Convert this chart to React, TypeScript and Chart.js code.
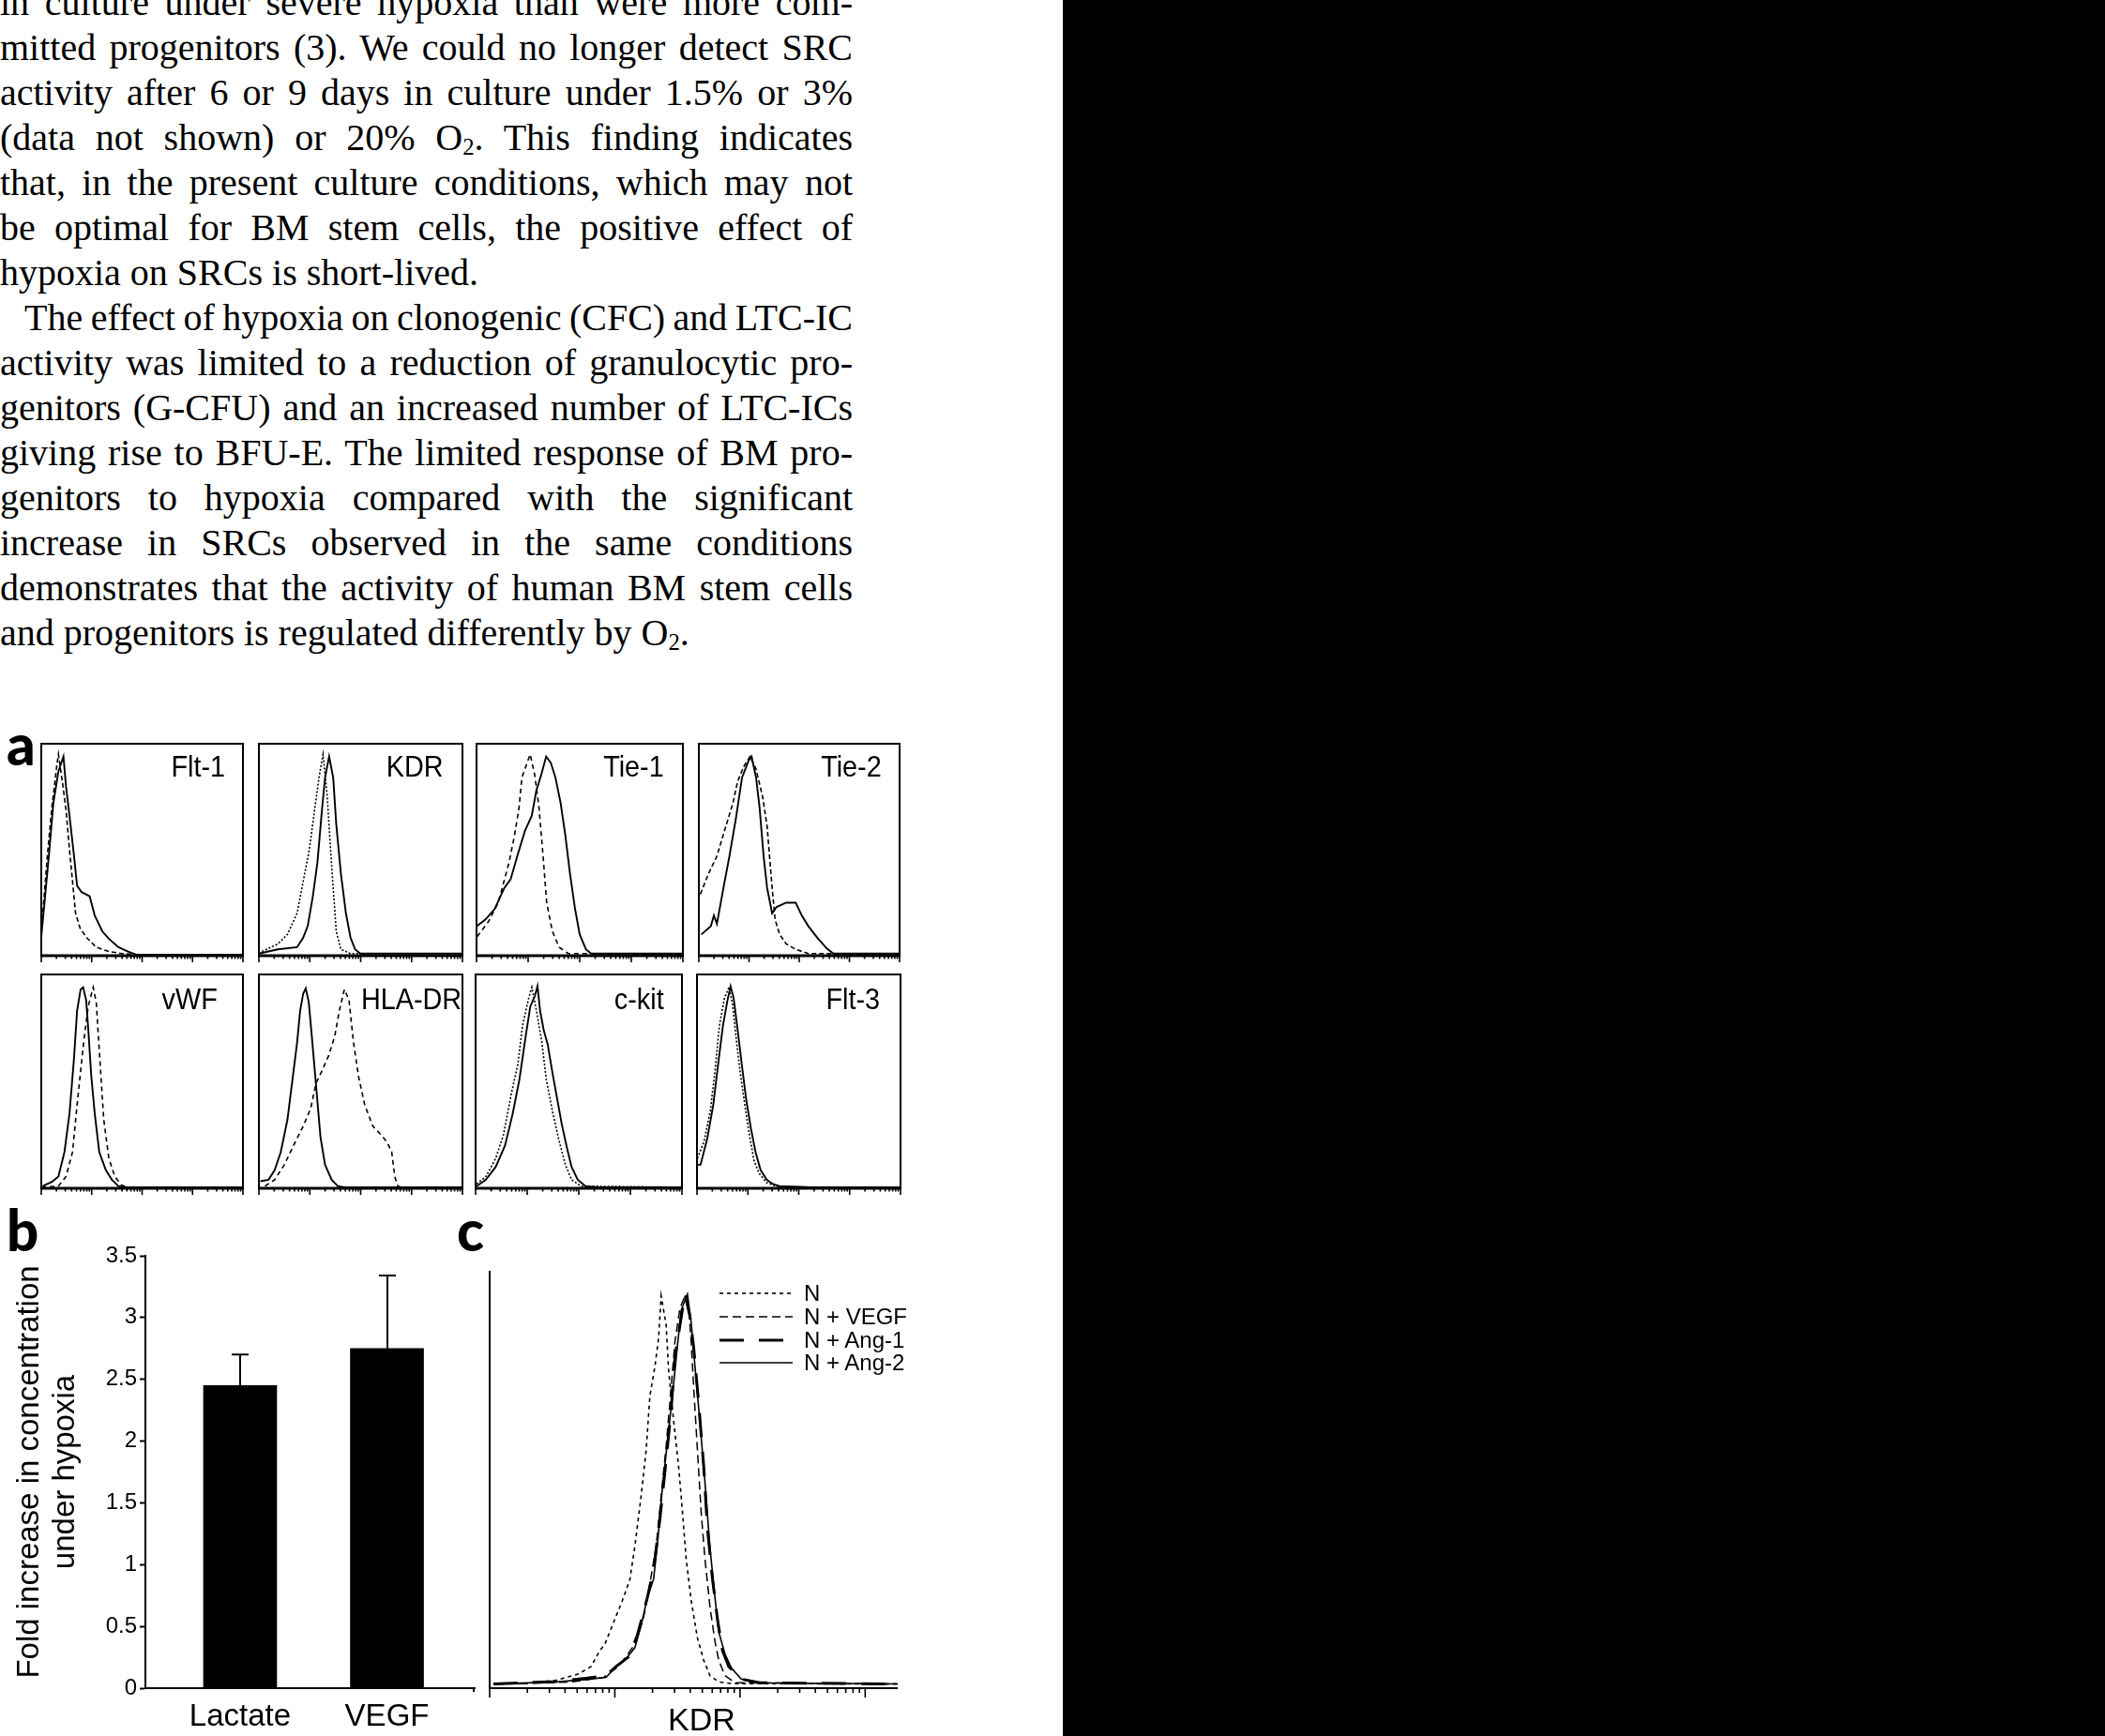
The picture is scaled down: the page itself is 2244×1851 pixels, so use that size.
import React, { useEffect, useRef } from 'react';
import { Chart, registerables } from 'chart.js';

Chart.register(...registerables);

type Pt = [number, number];

// ---------- Panel a: flow-cytometry histograms (x in log decades 0..4, y as fraction of frame height) ----------
const flt1Solid: Pt[] = [[0,0.09],[0.06,0.24],[0.15,0.47],[0.24,0.72],[0.34,0.87],[0.44,0.94],[0.49,0.8],[0.56,0.66],[0.65,0.47],[0.71,0.33],[0.8,0.3],[0.96,0.28],[1.06,0.19],[1.21,0.115],[1.34,0.08],[1.53,0.04],[1.71,0.02],[1.87,0.006],[2.5,0.005],[4,0.005]];
const flt1Dashed: Pt[] = [[0,0.1],[0.03,0.2],[0.12,0.47],[0.21,0.7],[0.31,0.9],[0.34,0.95],[0.43,0.8],[0.49,0.69],[0.56,0.5],[0.62,0.35],[0.68,0.2],[0.77,0.13],[0.9,0.085],[1.09,0.04],[1.34,0.02],[1.59,0.01],[2,0.005],[4,0.005]];

const kdrSolid: Pt[] = [[0,0.01],[0.37,0.03],[0.75,0.04],[0.87,0.085],[0.96,0.14],[1.06,0.28],[1.15,0.44],[1.24,0.69],[1.3,0.84],[1.38,0.94],[1.46,0.84],[1.52,0.62],[1.61,0.39],[1.71,0.2],[1.8,0.085],[1.89,0.03],[1.99,0.01],[4,0.01]];
const kdrDotted: Pt[] = [[0.06,0.02],[0.37,0.055],[0.56,0.1],[0.75,0.2],[0.87,0.35],[0.99,0.5],[1.09,0.68],[1.18,0.84],[1.26,0.95],[1.34,0.76],[1.4,0.53],[1.46,0.32],[1.52,0.115],[1.61,0.03],[1.8,0.01],[4,0.01]];

const tie1Solid: Pt[] = [[0.01,0.14],[0.17,0.17],[0.35,0.22],[0.54,0.32],[0.66,0.36],[0.79,0.47],[0.94,0.59],[1.07,0.66],[1.16,0.78],[1.25,0.85],[1.35,0.94],[1.44,0.91],[1.53,0.84],[1.63,0.72],[1.72,0.57],[1.81,0.39],[1.91,0.22],[2.0,0.1],[2.12,0.03],[2.22,0.01],[4,0.01]];
const tie1Dashed: Pt[] = [[0.01,0.09],[0.23,0.16],[0.42,0.25],[0.63,0.44],[0.73,0.56],[0.82,0.69],[0.88,0.84],[0.98,0.91],[1.04,0.95],[1.13,0.85],[1.21,0.7],[1.29,0.47],[1.36,0.25],[1.47,0.115],[1.6,0.04],[1.78,0.01],[4,0.008]];

const tie2Solid: Pt[] = [[0.05,0.1],[0.24,0.14],[0.3,0.19],[0.36,0.15],[0.49,0.32],[0.61,0.47],[0.74,0.65],[0.86,0.84],[0.99,0.92],[1.05,0.94],[1.14,0.84],[1.21,0.7],[1.29,0.47],[1.36,0.32],[1.46,0.2],[1.55,0.23],[1.74,0.25],[1.93,0.25],[2.05,0.19],[2.18,0.14],[2.36,0.085],[2.55,0.034],[2.68,0.01],[4,0.01]];
const tie2Dashed: Pt[] = [[0.03,0.29],[0.18,0.38],[0.36,0.47],[0.55,0.62],[0.68,0.72],[0.77,0.82],[0.89,0.89],[1.02,0.94],[1.14,0.88],[1.27,0.75],[1.36,0.61],[1.46,0.32],[1.52,0.17],[1.61,0.1],[1.74,0.056],[1.93,0.03],[2.18,0.01],[4,0.008]];

const vwfSolid: Pt[] = [[0.03,0.01],[0.21,0.03],[0.34,0.055],[0.46,0.17],[0.56,0.35],[0.65,0.61],[0.71,0.83],[0.78,0.93],[0.83,0.94],[0.89,0.88],[0.93,0.75],[0.99,0.53],[1.06,0.35],[1.15,0.17],[1.28,0.085],[1.4,0.04],[1.53,0.01],[1.65,0.005],[4,0.005]];
const vwfDashed: Pt[] = [[0,0.005],[0.34,0.01],[0.49,0.055],[0.62,0.17],[0.71,0.39],[0.84,0.68],[0.93,0.85],[1.03,0.94],[1.09,0.87],[1.16,0.61],[1.24,0.32],[1.34,0.14],[1.46,0.055],[1.59,0.015],[1.71,0.005],[4,0.005]];

const hlaSolid: Pt[] = [[0.03,0.033],[0.19,0.04],[0.31,0.085],[0.43,0.17],[0.56,0.32],[0.65,0.49],[0.75,0.68],[0.81,0.83],[0.87,0.91],[0.92,0.935],[0.98,0.87],[1.04,0.71],[1.12,0.49],[1.21,0.24],[1.3,0.11],[1.43,0.04],[1.55,0.01],[1.68,0.005],[4,0.005]];
const hlaDashed: Pt[] = [[0.12,0.01],[0.31,0.04],[0.5,0.11],[0.68,0.2],[0.87,0.29],[1.02,0.375],[1.12,0.49],[1.24,0.55],[1.37,0.62],[1.49,0.71],[1.58,0.83],[1.68,0.93],[1.77,0.88],[1.86,0.68],[1.96,0.52],[2.08,0.39],[2.24,0.29],[2.42,0.245],[2.52,0.215],[2.61,0.17],[2.67,0.055],[2.73,0.01],[2.8,0.005],[4,0.005]];

const ckitSolid: Pt[] = [[0.02,0.01],[0.2,0.04],[0.39,0.1],[0.57,0.2],[0.72,0.35],[0.85,0.51],[0.97,0.71],[1.06,0.85],[1.15,0.9],[1.2,0.945],[1.25,0.83],[1.32,0.74],[1.4,0.67],[1.49,0.54],[1.58,0.42],[1.67,0.3],[1.77,0.19],[1.86,0.1],[1.98,0.04],[2.13,0.01],[2.35,0.005],[4,0.005]];
const ckitDotted: Pt[] = [[0.02,0.02],[0.2,0.055],[0.39,0.14],[0.54,0.25],[0.69,0.44],[0.82,0.58],[0.91,0.76],[1.03,0.89],[1.09,0.94],[1.18,0.83],[1.28,0.69],[1.37,0.51],[1.49,0.36],[1.61,0.23],[1.74,0.11],[1.86,0.04],[2.04,0.01],[4,0.005]];

const flt3Solid: Pt[] = [[0,0.11],[0.07,0.11],[0.2,0.23],[0.32,0.39],[0.41,0.57],[0.51,0.76],[0.6,0.88],[0.66,0.945],[0.72,0.89],[0.8,0.74],[0.88,0.58],[0.97,0.41],[1.06,0.28],[1.15,0.17],[1.25,0.085],[1.37,0.04],[1.49,0.02],[1.62,0.01],[2.17,0.006],[4,0.005]];
const flt3Dotted: Pt[] = [[0.01,0.14],[0.14,0.22],[0.26,0.36],[0.35,0.54],[0.44,0.76],[0.54,0.89],[0.63,0.94],[0.7,0.86],[0.78,0.68],[0.85,0.54],[0.94,0.39],[1.03,0.25],[1.12,0.13],[1.22,0.07],[1.37,0.026],[1.56,0.01],[1.86,0.005],[4,0.005]];

const histLabels = ['Flt-1', 'KDR', 'Tie-1', 'Tie-2', 'vWF', 'HLA-DR', 'c-kit', 'Flt-3'];

// ---------- Panel b: bar chart ----------
const bCategories = ['Lactate', 'VEGF'];
const bValues = [2.45, 2.75];
const bErrorTop = [2.7, 3.34];
const bTickLabels = ['0', '0.5', '1', '1.5', '2', '2.5', '3', '3.5'];
const bYTitle = ['Fold increase in concentration', 'under hypoxia'];

// ---------- Panel c: KDR histograms (x in log decades) ----------
const cN: Pt[] = [[0.03,0.01],[0.28,0.011],[0.53,0.019],[0.71,0.034],[0.81,0.052],[0.88,0.09],[0.92,0.105],[0.98,0.15],[1.06,0.21],[1.12,0.26],[1.16,0.34],[1.21,0.46],[1.25,0.57],[1.28,0.7],[1.32,0.77],[1.35,0.84],[1.37,0.94],[1.41,0.87],[1.43,0.76],[1.47,0.64],[1.51,0.53],[1.53,0.46],[1.57,0.31],[1.61,0.21],[1.66,0.12],[1.71,0.067],[1.76,0.03],[1.83,0.015],[1.93,0.011],[3.26,0.01]];
const cVEGF: Pt[] = [[0.03,0.01],[0.28,0.011],[0.66,0.015],[0.91,0.026],[1.03,0.052],[1.16,0.105],[1.23,0.17],[1.28,0.25],[1.33,0.34],[1.37,0.46],[1.41,0.58],[1.45,0.72],[1.48,0.83],[1.52,0.91],[1.56,0.94],[1.59,0.91],[1.61,0.83],[1.63,0.72],[1.66,0.57],[1.69,0.42],[1.72,0.31],[1.76,0.195],[1.8,0.112],[1.83,0.067],[1.88,0.03],[1.96,0.013],[3.26,0.01]];
const cAng1: Pt[] = [[0.03,0.01],[0.53,0.016],[0.78,0.024],[0.93,0.03],[1.01,0.052],[1.11,0.075],[1.18,0.127],[1.26,0.217],[1.31,0.285],[1.36,0.405],[1.41,0.547],[1.45,0.667],[1.48,0.794],[1.52,0.869],[1.55,0.925],[1.56,0.944],[1.6,0.891],[1.63,0.816],[1.67,0.682],[1.71,0.532],[1.74,0.382],[1.78,0.262],[1.82,0.165],[1.86,0.09],[1.91,0.052],[2.01,0.022],[2.16,0.013],[3.26,0.01]];
const cAng2: Pt[] = [[0.03,0.01],[0.53,0.015],[0.78,0.021],[0.93,0.026],[1.01,0.052],[1.08,0.067],[1.16,0.097],[1.21,0.15],[1.26,0.217],[1.31,0.262],[1.345,0.36],[1.38,0.48],[1.42,0.59],[1.46,0.7],[1.5,0.82],[1.53,0.906],[1.58,0.944],[1.61,0.876],[1.64,0.772],[1.68,0.637],[1.72,0.494],[1.76,0.337],[1.8,0.217],[1.83,0.135],[1.88,0.082],[1.93,0.049],[2.01,0.022],[2.11,0.013],[3.26,0.01]];
const cLegend = ['N', 'N + VEGF', 'N + Ang-1', 'N + Ang-2'];
const cAxisLabel = 'KDR';

// ---------- Text ----------
const SANS = '"Liberation Sans", Arial, Helvetica, sans-serif';
const SERIF = '"Liberation Serif", "Times New Roman", serif';

type Line = { parts: (string | { sub: string })[]; justify: boolean; indent?: boolean };
const paragraphLines: Line[] = [
  { parts: ['in culture under severe hypoxia than were more com-'], justify: true },
  { parts: ['mitted progenitors (3). We could no longer detect SRC'], justify: true },
  { parts: ['activity after 6 or 9 days in culture under 1.5% or 3%'], justify: true },
  { parts: ['(data not shown) or 20% O', { sub: '2' }, '. This finding indicates'], justify: true },
  { parts: ['that, in the present culture conditions, which may not'], justify: true },
  { parts: ['be optimal for BM stem cells, the positive effect of'], justify: true },
  { parts: ['hypoxia on SRCs is short-lived.'], justify: false },
  { parts: ['The effect of hypoxia on clonogenic (CFC) and LTC-IC'], justify: true, indent: true },
  { parts: ['activity was limited to a reduction of granulocytic pro-'], justify: true },
  { parts: ['genitors (G-CFU) and an increased number of LTC-ICs'], justify: true },
  { parts: ['giving rise to BFU-E. The limited response of BM pro-'], justify: true },
  { parts: ['genitors to hypoxia compared with the significant'], justify: true },
  { parts: ['increase in SRCs observed in the same conditions'], justify: true },
  { parts: ['demonstrates that the activity of human BM stem cells'], justify: true },
  { parts: ['and progenitors is regulated differently by O', { sub: '2' }, '.'], justify: false },
];

// ---------- Plugins ----------
const logFrame = {
  id: 'logFrame',
  afterDatasetsDraw(chart: any, _args: any, opts: any) {
    const { ctx, chartArea: a, scales } = chart;
    const x = scales.x;
    ctx.save();
    ctx.strokeStyle = '#000';
    if (opts.box) {
      ctx.lineWidth = 2;
      ctx.strokeRect(a.left, a.top, a.right - a.left, a.bottom - a.top);
      ctx.lineWidth = 3;
      ctx.beginPath();
      ctx.moveTo(a.left - 1, a.bottom);
      ctx.lineTo(a.right + 1, a.bottom);
      ctx.stroke();
    } else {
      ctx.lineWidth = 2;
      ctx.beginPath();
      ctx.moveTo(a.left, a.top);
      ctx.lineTo(a.left, a.bottom);
      ctx.lineTo(a.right, a.bottom);
      ctx.stroke();
    }
    ctx.lineWidth = 1.6;
    const maxD = x.max;
    for (let d = 0; d <= Math.ceil(maxD); d++) {
      for (let k = 1; k <= 9; k++) {
        const v = d + Math.log10(k);
        if (v > maxD + 1e-6) break;
        const px = x.getPixelForValue(v);
        const len = k === 1 ? opts.major : opts.minor;
        ctx.beginPath();
        ctx.moveTo(px, a.bottom);
        ctx.lineTo(px, a.bottom + len);
        ctx.stroke();
      }
    }
    if (opts.legend) {
      opts.legend.forEach((row: any, i: number) => {
        const ds = chart.data.datasets[i];
        ctx.lineWidth = ds.borderWidth;
        ctx.setLineDash(ds.borderDash || []);
        ctx.beginPath();
        ctx.moveTo(row.x1, row.y);
        ctx.lineTo(row.x2, row.y);
        ctx.stroke();
      });
      ctx.setLineDash([]);
    }
    ctx.restore();
  },
};

const errorBars = {
  id: 'errorBars',
  afterDatasetsDraw(chart: any) {
    const { ctx, scales, chartArea: a } = chart;
    const x = scales.x;
    const y = scales.y;
    ctx.save();
    ctx.strokeStyle = '#000';
    ctx.lineWidth = 2;
    bValues.forEach((v, i) => {
      const px = Math.round(x.getPixelForValue(i + 1));
      const y0 = y.getPixelForValue(v);
      const y1 = y.getPixelForValue(bErrorTop[i]);
      ctx.beginPath();
      ctx.moveTo(px, y0);
      ctx.lineTo(px, y1);
      ctx.moveTo(px - 9, y1);
      ctx.lineTo(px + 9, y1);
      ctx.stroke();
    });
    // small end tick at the right end of the x axis
    ctx.beginPath();
    ctx.moveTo(a.right - 1, a.bottom);
    ctx.lineTo(a.right - 1, a.bottom + 4);
    ctx.stroke();
    ctx.restore();
  },
};

// ---------- Chart helper ----------
function ChartCanvas(props: { left: number; top: number; width: number; height: number; make: () => any }) {
  const ref = useRef<HTMLCanvasElement>(null);
  useEffect(() => {
    const chart = new Chart(ref.current as HTMLCanvasElement, props.make());
    return () => chart.destroy();
  }, []);
  return (
    <canvas
      ref={ref}
      width={props.width}
      height={props.height}
      style={{ position: 'absolute', left: props.left, top: props.top, width: props.width, height: props.height, display: 'block' }}
    />
  );
}

const baseOpts = {
  responsive: false,
  animation: false,
  devicePixelRatio: 1,
  events: [],
};

const histSeries: { solid: Pt[]; other: Pt[]; dash: number[] }[] = [
  { solid: flt1Solid, other: flt1Dashed, dash: [5, 3] },
  { solid: kdrSolid, other: kdrDotted, dash: [2, 2] },
  { solid: tie1Solid, other: tie1Dashed, dash: [5, 4] },
  { solid: tie2Solid, other: tie2Dashed, dash: [5, 3] },
  { solid: vwfSolid, other: vwfDashed, dash: [5, 4] },
  { solid: hlaSolid, other: hlaDashed, dash: [5, 4] },
  { solid: ckitSolid, other: ckitDotted, dash: [2, 2] },
  { solid: flt3Solid, other: flt3Dotted, dash: [2, 2] },
];

// frame boxes [left, top, right, bottom] and label geometry
const histBoxes = [
  [44, 793, 259, 1019], [276, 793, 493, 1019], [508, 793, 728, 1019], [745, 793, 959, 1019],
  [44, 1039, 259, 1267], [276, 1039, 493, 1267], [507, 1039, 727, 1267], [743, 1039, 960, 1267],
];
const labelRight = [240, 473, 708, 940, 232, 492, 708, 938];

function histConfig(i: number) {
  const s = histSeries[i];
  return {
    type: 'line',
    data: {
      datasets: [
        { data: s.other, borderColor: '#000', borderWidth: 1.6, borderDash: s.dash, pointRadius: 0, tension: 0, fill: false },
        { data: s.solid, borderColor: '#000', borderWidth: 1.9, pointRadius: 0, tension: 0, fill: false },
      ],
    },
    options: {
      ...baseOpts,
      layout: { padding: { left: 5, right: 5, top: 5, bottom: 12 } },
      plugins: { legend: { display: false }, tooltip: { enabled: false }, logFrame: { box: true, major: 7, minor: 3.5 } },
      scales: {
        x: { type: 'linear', min: 0, max: 4, display: false },
        y: { type: 'linear', min: 0, max: 1, display: false },
      },
    },
    plugins: [logFrame],
  };
}

function barConfig() {
  return {
    type: 'bar',
    data: {
      datasets: [
        {
          data: bCategories.map((_, i) => ({ x: i + 1, y: bValues[i] })),
          backgroundColor: '#000',
          borderWidth: 0,
          barThickness: 78,
        },
      ],
    },
    options: {
      ...baseOpts,
      layout: { padding: { left: 0, right: 14, top: 59, bottom: 0 } },
      plugins: { legend: { display: false }, tooltip: { enabled: false } },
      scales: {
        x: {
          type: 'linear',
          min: 0.355,
          max: 2.597,
          offset: false,
          afterBuildTicks: (sc: any) => {
            sc.ticks = bCategories.map((_, i) => ({ value: i + 1 }));
          },
          afterFit: (sc: any) => {
            sc.height = 51;
          },
          ticks: {
            callback: (v: number) => bCategories[Math.round(v) - 1] ?? '',
            font: { family: SANS, size: 33 },
            color: '#000',
            padding: 11,
            maxRotation: 0,
            autoSkip: false,
          },
          grid: { display: false, drawTicks: false },
          border: { display: true, color: '#000', width: 2 },
        },
        y: {
          type: 'linear',
          min: 0,
          max: 3.5,
          afterFit: (sc: any) => {
            sc.width = 155;
          },
          ticks: {
            stepSize: 0.5,
            callback: (_v: number, i: number) => bTickLabels[i],
            font: { family: SANS, size: 24 },
            color: '#000',
            padding: 3,
          },
          grid: { drawOnChartArea: false, drawTicks: true, tickLength: 6, tickColor: '#000', tickWidth: 2 },
          border: { display: true, color: '#000', width: 2 },
          title: {
            display: true,
            text: bYTitle,
            font: { family: SANS, size: 33, lineHeight: 1.15 },
            color: '#000',
            padding: { top: 13, bottom: 0 },
          },
        },
      },
    },
    plugins: [errorBars],
  };
}

const cCanvas = { left: 500, top: 1340, width: 480, height: 480 };
const cLegendRows = [1379, 1404, 1429, 1453];

function kdrConfig() {
  const line = (data: Pt[], width: number, dash: number[]) => ({
    data,
    borderColor: '#000',
    borderWidth: width,
    borderDash: dash,
    pointRadius: 0,
    tension: 0,
    fill: false,
  });
  return {
    type: 'line',
    data: {
      datasets: [
        line(cN, 1.6, [4, 4]),
        line(cVEGF, 1.5, [9, 5]),
        line(cAng1, 3, [26, 16]),
        line(cAng2, 1.6, []),
      ],
    },
    options: {
      ...baseOpts,
      layout: { padding: { left: 22, right: 23, top: 15, bottom: 20 } },
      plugins: {
        legend: { display: false },
        tooltip: { enabled: false },
        logFrame: {
          box: false,
          major: 10,
          minor: 5,
          legend: cLegendRows.map((y) => ({ x1: 767 - cCanvas.left, x2: 845 - cCanvas.left, y: y - cCanvas.top })),
        },
      },
      scales: {
        x: { type: 'linear', min: 0, max: 3.26, display: false },
        y: { type: 'linear', min: 0, max: 1, display: false },
      },
    },
    plugins: [logFrame],
  };
}

export default function App() {
  return (
    <div style={{ position: 'absolute', left: 0, top: 0, width: 2244, height: 1851, overflow: 'hidden', background: '#fff' }}>
      {/* paragraph text */}
      {paragraphLines.map((ln, i) => (
        <div
          key={i}
          style={{
            position: 'absolute',
            left: 0,
            top: -21.5 + i * 48,
            width: 909,
            fontFamily: SERIF,
            fontSize: 40,
            lineHeight: '48px',
            color: '#000',
            textAlign: ln.justify ? 'justify' : 'left',
            textAlignLast: ln.justify ? 'justify' : 'left',
            textIndent: ln.indent ? 26 : 0,
            wordSpacing: ln.justify ? '-4px' : 'normal',
          } as React.CSSProperties}
        >
          {ln.parts.map((p, j) =>
            typeof p === 'string' ? (
              <React.Fragment key={j}>{p}</React.Fragment>
            ) : (
              <sub key={j} style={{ fontSize: '0.62em', verticalAlign: '-0.22em', lineHeight: 0 }}>
                {p.sub}
              </sub>
            )
          )}
        </div>
      ))}

      {/* black area at right */}
      <div style={{ position: 'absolute', left: 1133, top: 0, width: 1111, height: 1851, background: '#000' }} />

      {/* panel letters */}
      {[
        { t: 'a', l: 7, top: 763 },
        { t: 'b', l: 7, top: 1281 },
        { t: 'c', l: 487, top: 1281 },
      ].map((p) => (
        <div
          key={p.t}
          style={{ position: 'absolute', left: p.l, top: p.top, fontFamily: 'Lato, "DejaVu Sans", sans-serif', fontWeight: 900, fontSize: 60, lineHeight: '60px', color: '#000' }}
        >
          {p.t}
        </div>
      ))}

      {/* panel a histograms */}
      {histBoxes.map((b, i) => (
        <ChartCanvas
          key={'h' + i}
          left={b[0] - 5}
          top={b[1] - 5}
          width={b[2] - b[0] + 10}
          height={b[3] - b[1] + 17}
          make={() => histConfig(i)}
        />
      ))}
      {histLabels.map((t, i) => (
        <div
          key={'l' + i}
          style={{
            position: 'absolute',
            right: 2244 - labelRight[i],
            top: i < 4 ? 801 : 1049,
            fontFamily: SANS,
            fontSize: 32,
            lineHeight: '32px',
            whiteSpace: 'nowrap',
            color: '#000',
            transform: 'scaleX(0.9)',
            transformOrigin: 'right center',
          }}
        >
          {t}
        </div>
      ))}

      {/* panel b */}
      <ChartCanvas left={0} top={1280} width={520} height={571} make={barConfig} />

      {/* panel c */}
      <ChartCanvas left={cCanvas.left} top={cCanvas.top} width={cCanvas.width} height={cCanvas.height} make={kdrConfig} />
      {cLegend.map((t, i) => (
        <div
          key={'c' + i}
          style={{ position: 'absolute', left: 857, top: cLegendRows[i] - 12, fontFamily: SANS, fontSize: 24, lineHeight: '24px', whiteSpace: 'nowrap', color: '#000' }}
        >
          {t}
        </div>
      ))}
      <div
        style={{ position: 'absolute', left: 700, width: 96, top: 1816, textAlign: 'center', fontFamily: SANS, fontSize: 34, lineHeight: '34px', color: '#000' }}
      >
        {cAxisLabel}
      </div>
    </div>
  );
}
